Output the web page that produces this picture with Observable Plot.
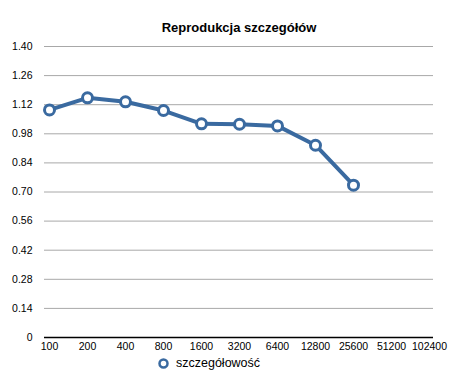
<!DOCTYPE html>
<html><head><meta charset="utf-8">
<script src="https://cdn.jsdelivr.net/npm/d3@7"></script>
<script src="https://cdn.jsdelivr.net/npm/@observablehq/plot@0.6"></script>
<style>body{margin:0;background:#fff;} svg{display:block;}</style>
</head><body>
<div id="chart"></div>
<script>
const title = "Reprodukcja szczegółów";
const seriesName = "szczegółowość";
const categories = ["100","200","400","800","1600","3200","6400","12800","25600","51200","102400"];
const seriesCats = ["100","200","400","800","1600","3200","6400","12800","25600"];
const seriesValues = [1.095,1.153,1.134,1.092,1.028,1.026,1.018,0.925,0.733];
const yTicks = [0,0.14,0.28,0.42,0.56,0.70,0.84,0.98,1.12,1.26,1.40];

const data = seriesCats.map((c,i)=>({cat:c, v:seriesValues[i]}));
const color = "#3a6aa0";
const font = "'Liberation Sans', Arial, Helvetica, sans-serif";

const chart = Plot.plot({
  width: 461, height: 387,
  marginTop: 46, marginBottom: 50, marginLeft: 44, marginRight: 28,
  style: {fontFamily: font, fontSize: "10.5px", color: "#000", background: "#fff"},
  x: {type: "point", domain: categories, padding: 0, label: null, tickSize: 0, tickPadding: 5},
  y: {domain: [0, 1.4], ticks: yTicks, label: null, tickSize: 0, tickPadding: 12,
      tickFormat: d => d === 0 ? "0" : d.toFixed(2)},
  marks: [
    Plot.ruleY(yTicks.filter(d=>d>0), {stroke: "#a8a8a8", strokeWidth: 1}),
    Plot.ruleY([0], {stroke: "#000", strokeWidth: 1.5}),
    Plot.line(data, {x: "cat", y: "v", stroke: color, strokeWidth: 4}),
    Plot.dot(data, {x: "cat", y: "v", r: 5, fill: "#fff", stroke: color, strokeWidth: 3}),
    Plot.text([title], {frameAnchor: "top", lineAnchor: "middle", dy: -19, fontWeight: "bold", fontSize: 13, fill: "#000"}),
    Plot.dot([seriesName], {frameAnchor: "bottom", dx: -75.5, dy: 26, r: 4, fill: "#fff", stroke: color, strokeWidth: 2.5}),
    Plot.text([seriesName], {frameAnchor: "bottom", lineAnchor: "middle", dx: -63, dy: 25.5, textAnchor: "start", fontSize: 12.5, fill: "#000"})
  ]
});
document.getElementById("chart").append(chart);
</script>
</body></html>
